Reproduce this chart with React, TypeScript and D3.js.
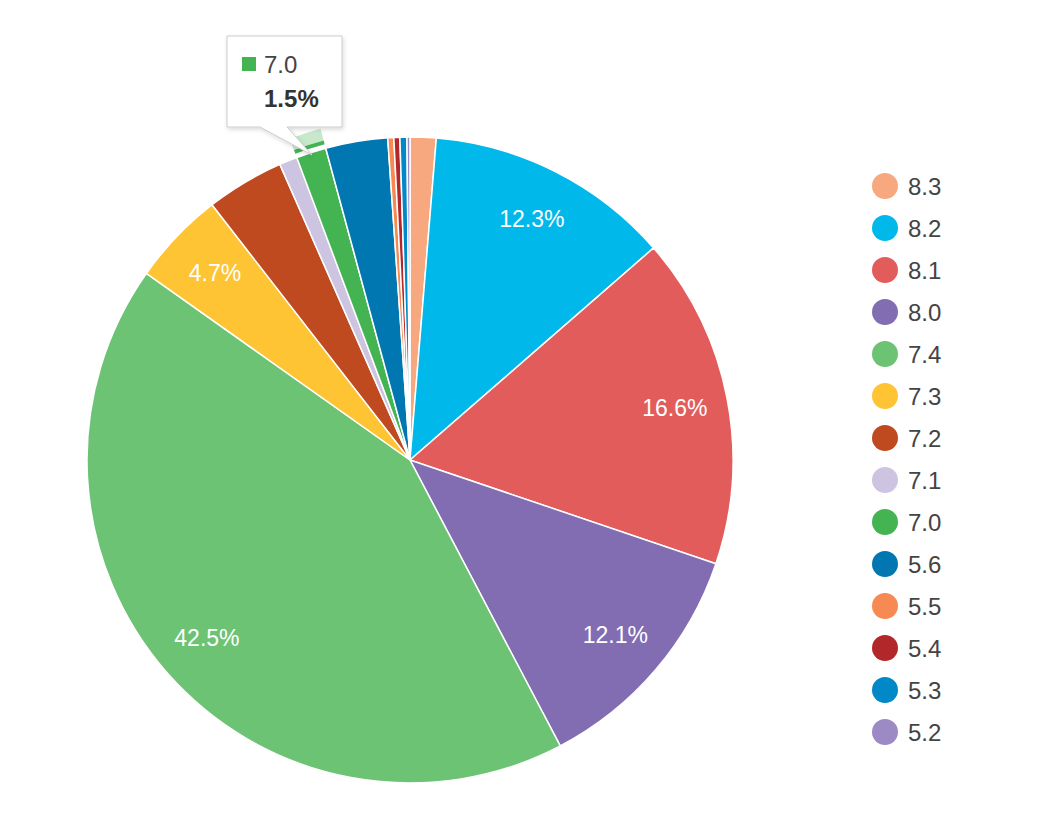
import React from 'react';
import * as d3 from 'd3';

const categories = ['8.3', '8.2', '8.1', '8.0', '7.4', '7.3', '7.2', '7.1', '7.0', '5.6', '5.5', '5.4', '5.3', '5.2'];
const shares = [1.3, 12.3, 16.6, 12.1, 42.5, 4.7, 3.9, 0.9, 1.5, 3.1, 0.3, 0.3, 0.35, 0.15];
const colors = ['#f8a87e', '#00b8ea', '#e35c5c', '#826db3', '#6cc374', '#fec433', '#bf4a1f', '#cdc4e1', '#44b453', '#0077b0', '#f78a52', '#b2272a', '#0089c6', '#9d89c3'];
const hovered = '7.0';

const W = 1040, H = 830;
const cx = 410, cy = 460, R = 323;
const font = '"Liberation Sans", Arial, sans-serif';

export default function App() {
  const data = categories.map((c, i) => ({ c, v: shares[i], col: colors[i] }));
  const pie = d3.pie<any>().sort(null).value(d => d.v);
  const arcs = pie(data);
  const arc = d3.arc<any>().innerRadius(0).outerRadius(R);
  const labelArc = d3.arc<any>().innerRadius(270).outerRadius(270);
  const ringDark = d3.arc<any>().innerRadius(327).outerRadius(331);
  const ringLight = d3.arc<any>().innerRadius(331).outerRadius(343);
  const hov = arcs.find(a => a.data.c === hovered)!;
  const legendY = d3.scalePoint<string>().domain(categories).range([186, 732]);

  return (
    <div style={{ position: 'absolute', left: 0, top: 0 }}>
      <svg width={W} height={H} style={{ display: 'block', fontFamily: font }}>
        <rect width={W} height={H} fill="#fff" />
        <g transform={`translate(${cx},${cy})`}>
          {arcs.map(a => (
            <path key={a.data.c} d={arc(a) as string} fill={a.data.col} stroke="#fff" strokeWidth={1.5} />
          ))}
          {arcs.filter(a => a.data.v >= 4).map(a => {
            const [x, y] = labelArc.centroid(a);
            return (
              <text key={'l' + a.data.c} x={x} y={y} dy="0.35em" textAnchor="middle" fill="#fff" fontSize={23}>
                {a.data.v.toFixed(1)}%
              </text>
            );
          })}
          <path d={ringDark(hov) as string} fill={hov.data.col} />
          <path d={ringLight(hov) as string} fill={hov.data.col} fillOpacity={0.3} />
        </g>
        <g>
          <defs>
            <filter id="sh" x="-20%" y="-20%" width="140%" height="140%">
              <feDropShadow dx={1} dy={2} stdDeviation={2} floodColor="#000" floodOpacity={0.15} />
            </filter>
          </defs>
          <path d="M227,36 H342 V127 H287 L312,155 L260,127 H227 Z" fill="#fff" stroke="#cccccc" strokeWidth={1} filter="url(#sh)" />
          <rect x={242} y={57} width={14} height={14} fill={hov.data.col} />
          <text x={264} y={73} fontSize={24} fill="#444">{hovered}</text>
          <text x={264} y={107} fontSize={24} fontWeight="bold" fill="#333">{hov.data.v.toFixed(1)}%</text>
        </g>
        <g>
          {data.map(d => (
            <g key={'lg' + d.c} transform={`translate(885,${legendY(d.c)})`}>
              <circle r={13} fill={d.col} />
              <text x={23} dy="0.36em" fontSize={24} fill="#444">{d.c}</text>
            </g>
          ))}
        </g>
      </svg>
    </div>
  );
}
